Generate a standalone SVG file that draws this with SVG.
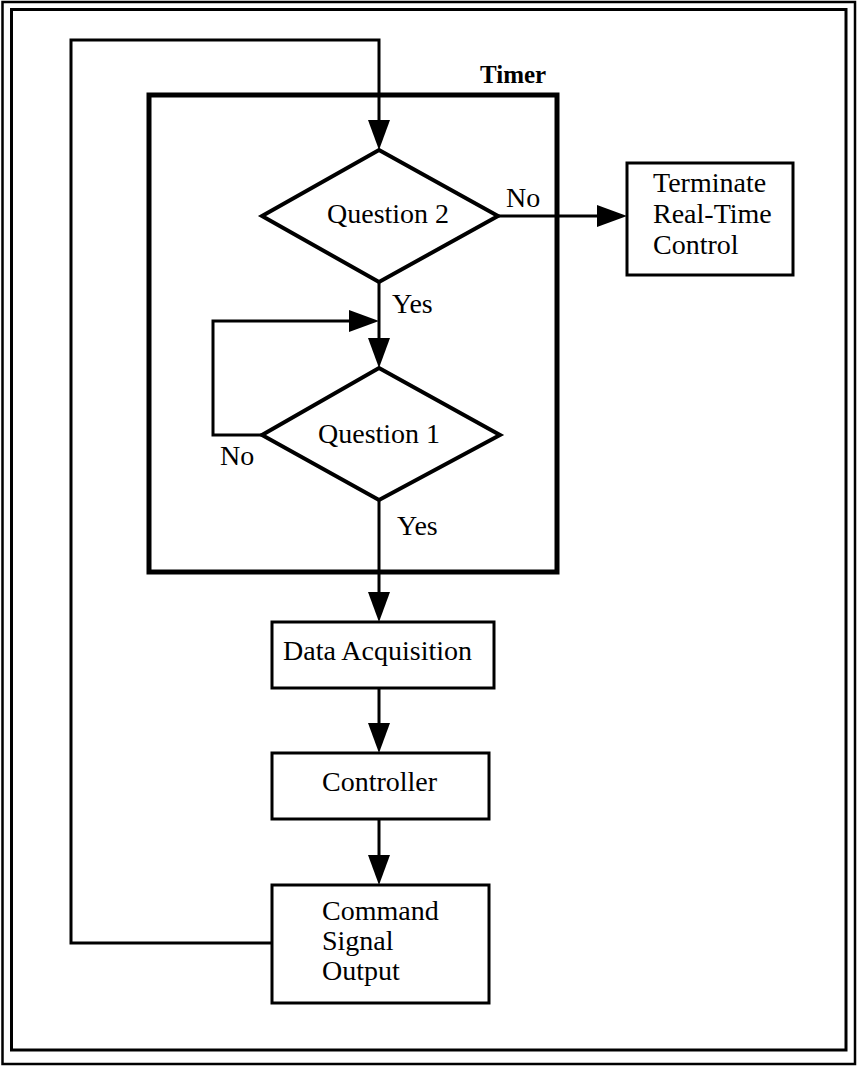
<svg xmlns="http://www.w3.org/2000/svg" width="858" height="1067" viewBox="0 0 858 1067">
  <style>
    .frame { fill: none; stroke: #000; }
    .box { fill: #fff; stroke: #000; stroke-width: 3; }
    .diamond { fill: #fff; stroke: #000; stroke-width: 4; stroke-linejoin: miter; }
    .timer { fill: none; stroke: #000; stroke-width: 5; }
    .wire { fill: none; stroke: #000; stroke-width: 3; }
    .arrow { fill: none; stroke: #000; stroke-width: 3; marker-end: url(#head); }
    .lbl { font-family: "Liberation Serif", "Times New Roman", serif; font-size: 28px; fill: #000; }
    .bold { font-weight: bold; font-size: 25px; }
  </style>
  <defs>
    <!-- solid arrowhead drawn beyond the end of the line -->
    <marker id="head" markerUnits="userSpaceOnUse" viewBox="0 0 30 24" markerWidth="30" markerHeight="24" refX="0" refY="12" orient="auto">
      <path d="M0,1 L30,12 L0,23 Z" fill="#000"/>
    </marker>
  </defs>

  <rect width="858" height="1067" fill="#fff"/>

  <!-- double page frame -->
  <g id="frame">
    <rect class="frame" x="2.5" y="2" width="852.5" height="1062" stroke-width="2.5"/>
    <rect class="frame" x="11.5" y="9.5" width="834.5" height="1040.5" stroke-width="3"/>
  </g>

  <!-- timer block -->
  <g id="timer">
    <rect class="timer" x="149" y="95" width="408" height="477"/>
    <text class="lbl bold" x="480" y="83">Timer</text>
  </g>

  <!-- connectors -->
  <g id="connectors">
    <!-- feedback from command output back to the top -->
    <path class="arrow" d="M272,943 H71 V40 H379 V120"/>
    <!-- Question 2: No -->
    <path class="arrow" d="M498,216 H597"/>
    <!-- Question 2: Yes -->
    <path class="arrow" d="M379,282 V338"/>
    <!-- Question 1: No loop -->
    <path class="arrow" d="M262,435 H213 V321 H349"/>
    <!-- Question 1: Yes -->
    <path class="arrow" d="M379,500 V592"/>
    <path class="arrow" d="M379,688 V723"/>
    <path class="arrow" d="M379,819 V855"/>
  </g>

  <g id="question2">
    <polygon class="diamond" points="379,150 498,216 379,282 262,216"/>
    <text class="lbl" x="327" y="223">Question 2</text>
  </g>

  <g id="question1">
    <polygon class="diamond" points="379,368 500,435 379,500 262,435"/>
    <text class="lbl" x="318" y="443">Question 1</text>
  </g>

  <!-- branch labels -->
  <g id="labels">
    <text class="lbl" x="506" y="207">No</text>
    <text class="lbl" x="392" y="313">Yes</text>
    <text class="lbl" x="220" y="465">No</text>
    <text class="lbl" x="397" y="535">Yes</text>
  </g>

  <g id="terminate">
    <rect class="box" x="627" y="163" width="166" height="112"/>
    <text class="lbl" x="653" y="192">Terminate</text>
    <text class="lbl" x="653" y="223">Real-Time</text>
    <text class="lbl" x="653" y="254">Control</text>
  </g>

  <g id="data-acquisition">
    <rect class="box" x="272" y="622" width="222" height="66"/>
    <text class="lbl" x="283" y="660">Data Acquisition</text>
  </g>

  <g id="controller">
    <rect class="box" x="272" y="753" width="217" height="66"/>
    <text class="lbl" x="322" y="791">Controller</text>
  </g>

  <g id="command-output">
    <rect class="box" x="272" y="885" width="217" height="118"/>
    <text class="lbl" x="322" y="920">Command</text>
    <text class="lbl" x="322" y="950">Signal</text>
    <text class="lbl" x="322" y="980">Output</text>
  </g>
</svg>
